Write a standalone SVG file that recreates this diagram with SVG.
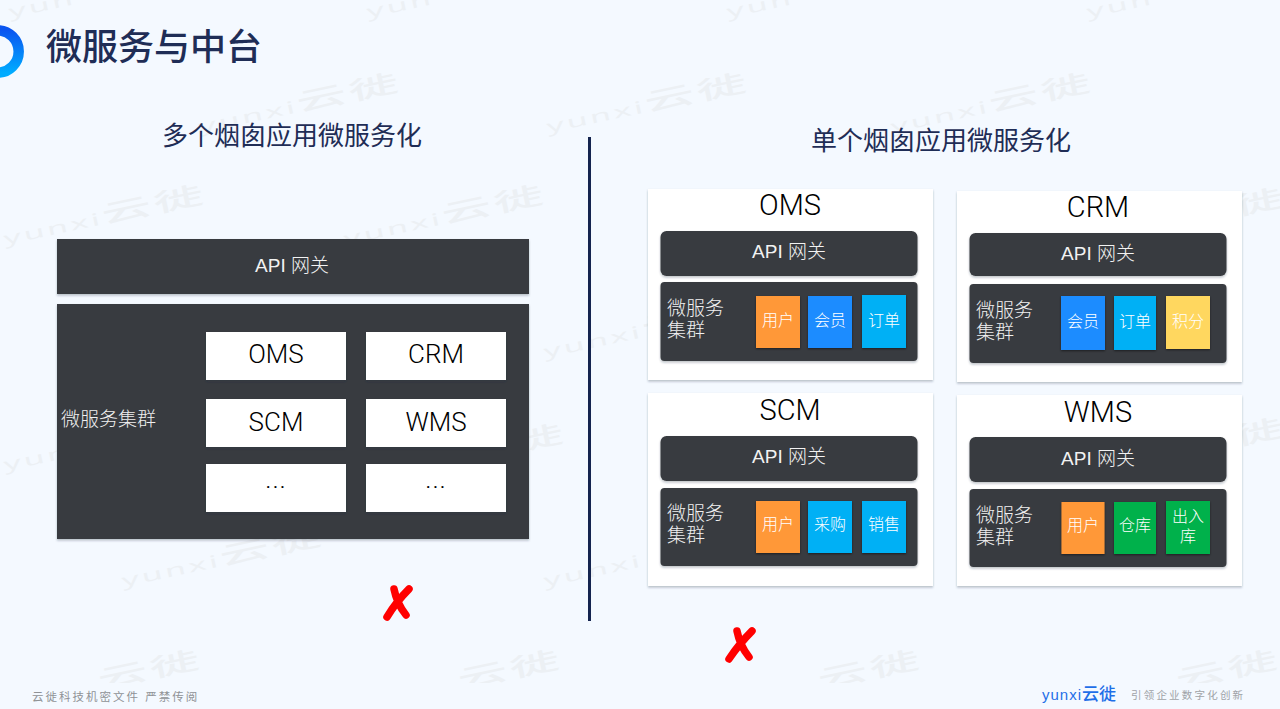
<svg xmlns="http://www.w3.org/2000/svg" width="1280" height="709" viewBox="0 0 1280 709">
<style>
text{font-family:"Liberation Sans","Noto Sans CJK SC",sans-serif}
.wm{font-size:34px;fill:#ecf0f4;letter-spacing:3px;font-family:"Noto Sans","Noto Sans CJK SC",sans-serif}
.wm tspan{font-size:50px;letter-spacing:3px;font-weight:500}
.h{fill:#1f2d56;font-size:26px;text-anchor:middle;font-weight:400}
.dark{fill:#373b3f;filter:url(#sh)}
.card{fill:#fff;filter:url(#sh)}
.cell{fill:#fff;filter:url(#sh)}
.t1,.t2{fill:#000;text-anchor:middle;font-family:"Roboto","Liberation Sans",sans-serif;font-weight:300}
.t1{font-size:26px}
.t2{font-size:29px}
.api{fill:#f2f2f2;font-size:19px;text-anchor:middle;font-weight:300}
.lbl{fill:#f0f0f0;font-size:19px;font-weight:300}
.tag{fill:#fff;font-size:16px;text-anchor:middle;font-weight:300}
.b{filter:url(#sh2)}
.or{fill:#ff9838}.bl{fill:#1a8cff}.cy{fill:#00b0f5}.ye{fill:#ffd75e}.gr{fill:#00b14c}
.x{fill:none;stroke:#f00;stroke-width:7.5;stroke-linecap:round}
.foot{fill:#8f9296;font-size:11.5px;letter-spacing:2px}
</style>
<defs>
<filter id="sh" x="-5%" y="-5%" width="110%" height="115%"><feDropShadow dx="0" dy="1.5" stdDeviation="1.3" flood-color="#203040" flood-opacity=".3"/></filter>
<filter id="sh2" x="-10%" y="-10%" width="120%" height="120%"><feDropShadow dx="0" dy="1" stdDeviation=".8" flood-color="#000" flood-opacity=".5"/></filter>
<linearGradient id="lg" x1="0" y1="0" x2="0" y2="1"><stop offset="0" stop-color="#0a55f0"/><stop offset="1" stop-color="#00acff"/></linearGradient>
<clipPath id="cut"><rect width="1280" height="683"/></clipPath>
</defs>
<rect width="1280" height="709" fill="#f4f9ff"/>
<g id="watermarks">
<text class="wm" transform="translate(10 18) rotate(-12) scale(1 .5)">yun</text>
<text class="wm" transform="translate(368 18) rotate(-12) scale(1 .5)">yun</text>
<text class="wm" transform="translate(728 18) rotate(-12) scale(1 .5)">yun</text>
<text class="wm" transform="translate(1088 18) rotate(-12) scale(1 .5)">yun</text>
<text class="wm" transform="translate(200 133) rotate(-12) scale(1 .5)">yunxi<tspan>云徙</tspan></text>
<text class="wm" transform="translate(548 133) rotate(-12) scale(1 .5)">yunxi<tspan>云徙</tspan></text>
<text class="wm" transform="translate(892 133) rotate(-12) scale(1 .5)">yunxi<tspan>云徙</tspan></text>
<text class="wm" transform="translate(5 245) rotate(-12) scale(1 .5)">yunxi<tspan>云徙</tspan></text>
<text class="wm" transform="translate(345 245) rotate(-12) scale(1 .5)">yunxi<tspan>云徙</tspan></text>
<text class="wm" transform="translate(1085 248) rotate(-12) scale(1 .5)">yunxi<tspan>云徙</tspan></text>
<text class="wm" transform="translate(545 358) rotate(-12) scale(1 .5)">yunxi<tspan>云徙</tspan></text>
<text class="wm" transform="translate(5 471) rotate(-12) scale(1 .5)">yunx</text>
<text class="wm" transform="translate(365 484) rotate(-12) scale(1 .5)">yunxi<tspan>云徙</tspan></text>
<text class="wm" transform="translate(1085 478) rotate(-12) scale(1 .5)">yunxi<tspan>云徙</tspan></text>
<text class="wm" transform="translate(123 587) rotate(-12) scale(1 .5)">yunxi<tspan>云徙</tspan></text>
<text class="wm" transform="translate(545 587) rotate(-12) scale(1 .5)">yunxi</text>
<g clip-path="url(#cut)">
<text class="wm" transform="translate(100 689) rotate(-12) scale(1 .5)"><tspan>云徙</tspan></text>
<text class="wm" transform="translate(460 689) rotate(-12) scale(1 .5)"><tspan>云徙</tspan></text>
<text class="wm" transform="translate(820 689) rotate(-12) scale(1 .5)"><tspan>云徙</tspan></text>
<text class="wm" transform="translate(1178 689) rotate(-12) scale(1 .5)"><tspan>云徙</tspan></text>
</g>
</g>
<g id="header">
<circle cx="-2.5" cy="51.5" r="21.2" fill="none" stroke="url(#lg)" stroke-width="10.5"/>
<text x="46" y="60" font-size="36" font-weight="500" fill="#1f2d56">微服务与中台</text>
</g>
<text class="h" x="292" y="145">多个烟囱应用微服务化</text>
<text class="h" x="941" y="150">单个烟囱应用微服务化</text>
<g id="connectors"><line x1="589.5" y1="137" x2="589.5" y2="621" stroke="#14244f" stroke-width="3"/></g>

<g id="left-gateway"><rect class="dark" x="57" y="239" width="472" height="55"/><text class="api" x="292" y="272">API 网关</text></g>
<g id="left-cluster"><rect class="dark" x="57" y="304" width="472" height="235"/><text class="lbl" x="61" y="426">微服务集群</text></g>
<g id="left-oms"><rect class="cell" x="206" y="332" width="140" height="48"/><text class="t1" x="276" y="363">OMS</text></g>
<g id="left-crm"><rect class="cell" x="366" y="332" width="140" height="48"/><text class="t1" x="436" y="363">CRM</text></g>
<g id="left-scm"><rect class="cell" x="206" y="399" width="140" height="48"/><text class="t1" x="276" y="431">SCM</text></g>
<g id="left-wms"><rect class="cell" x="366" y="399" width="140" height="48"/><text class="t1" x="436" y="431">WMS</text></g>
<g id="left-more1"><rect class="cell" x="206" y="464" width="140" height="48"/><text class="t1" x="276" y="488" letter-spacing="1">...</text></g>
<g id="left-more2"><rect class="cell" x="366" y="464" width="140" height="48"/><text class="t1" x="436" y="488" letter-spacing="1">...</text></g>

<g id="oms">
<rect class="card" x="648" y="189" width="285" height="191"/><text class="t2" x="790" y="215">OMS</text>
<rect class="dark" x="660.5" y="231" width="257" height="45" rx="6"/><text class="api" x="789" y="258">API 网关</text>
<rect class="dark" x="660.5" y="282" width="257" height="79" rx="4"/>
<text class="lbl" x="667" y="315">微服务</text><text class="lbl" x="667" y="337">集群</text>
<rect class="or b" x="756" y="296" width="44" height="52"/><text class="tag" x="778" y="326">用户</text>
<rect class="bl b" x="808" y="296" width="44" height="52"/><text class="tag" x="830" y="326">会员</text>
<rect class="cy b" x="862" y="295" width="44" height="53"/><text class="tag" x="884" y="326">订单</text>
</g>
<g id="crm">
<rect class="card" x="957" y="191" width="285" height="191"/><text class="t2" x="1098" y="217">CRM</text>
<rect class="dark" x="969.5" y="233" width="257" height="43" rx="6"/><text class="api" x="1098" y="260">API 网关</text>
<rect class="dark" x="969.5" y="284" width="257" height="79" rx="4"/>
<text class="lbl" x="976" y="317">微服务</text><text class="lbl" x="976" y="339">集群</text>
<rect class="bl b" x="1061" y="296" width="44" height="54"/><text class="tag" x="1083" y="327">会员</text>
<rect class="cy b" x="1114" y="296" width="42" height="54"/><text class="tag" x="1135" y="327">订单</text>
<rect class="ye b" x="1166" y="296" width="44" height="53"/><text class="tag" x="1188" y="327">积分</text>
</g>
<g id="scm">
<rect class="card" x="648" y="393" width="285" height="193"/><text class="t2" x="790" y="420">SCM</text>
<rect class="dark" x="660.5" y="436" width="257" height="45" rx="6"/><text class="api" x="789" y="463">API 网关</text>
<rect class="dark" x="660.5" y="488" width="257" height="78" rx="4"/>
<text class="lbl" x="667" y="520">微服务</text><text class="lbl" x="667" y="542">集群</text>
<rect class="or b" x="756" y="501" width="44" height="52"/><text class="tag" x="778" y="530">用户</text>
<rect class="cy b" x="808" y="501" width="44" height="52"/><text class="tag" x="830" y="530">采购</text>
<rect class="cy b" x="862" y="501" width="44" height="52"/><text class="tag" x="884" y="530">销售</text>
</g>
<g id="wms">
<rect class="card" x="957" y="395" width="285" height="191"/><text class="t2" x="1098" y="422">WMS</text>
<rect class="dark" x="969.5" y="437" width="257" height="45" rx="6"/><text class="api" x="1098" y="465">API 网关</text>
<rect class="dark" x="969.5" y="489" width="257" height="78" rx="4"/>
<text class="lbl" x="976" y="522">微服务</text><text class="lbl" x="976" y="544">集群</text>
<rect class="or b" x="1061.5" y="502" width="43" height="52"/><text class="tag" x="1083" y="531">用户</text>
<rect class="gr b" x="1114" y="502" width="42" height="52"/><text class="tag" x="1135" y="531">仓库</text>
<rect class="gr b" x="1166" y="501" width="44" height="53"/><text class="tag" x="1188" y="522">出入</text><text class="tag" x="1188" y="542">库</text>
</g>
<g id="marks">
<path class="x" d="M409 589Q396 602 387 617M394 589Q397 604 406 615"/>
<path class="x" d="M752 631Q739 644 729 659M737 631Q740 646 749 657"/>
</g>
<g id="footer">
<text class="foot" x="32" y="700.5">云徙科技机密文件 严禁传阅</text>
<text x="1042" y="700" font-size="15" letter-spacing="1" fill="#1f6fe8">yunxi<tspan font-size="17" font-weight="500" letter-spacing="0">云徙</tspan></text>
<text x="1131" y="699" font-size="10.5" letter-spacing="2.2" fill="#a0a3a7">引领企业数字化创新</text>
</g>
</svg>
